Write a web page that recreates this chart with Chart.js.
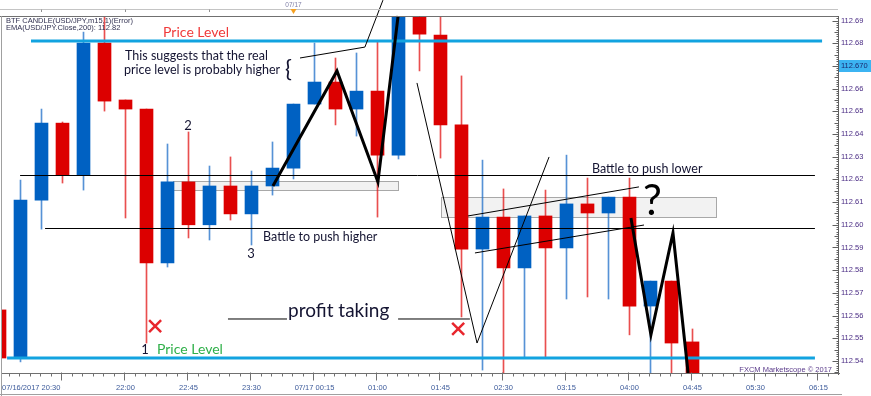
<!DOCTYPE html>
<html>
<head>
<meta charset="UTF-8">
<title>USD/JPY m15</title>
<script src="https://cdn.jsdelivr.net/npm/chart.js@4.4.0/dist/chart.umd.min.js"></script>
<style>
  body { margin: 0; background: #fff; }
  #wrap { width: 871px; height: 396px; position: relative; }
</style>
</head>
<body>
<div id="wrap"><canvas id="candles"></canvas></div>
<script>
// 15 min candles USD/JPY, 07/16/2017 20:30 -> 07/17 06:15
var times = ['20:30','20:45','21:00','21:15','21:30','21:45','22:00','22:15','22:30','22:45',
             '23:00','23:15','23:30','23:45','00:00','00:15','00:30','00:45','01:00','01:15',
             '01:30','01:45','02:00','02:15','02:30','02:45','03:00','03:15','03:30','03:45',
             '04:00','04:15','04:30','04:45','05:00','05:15','05:30','05:45','06:00','06:15'];

var opens  = [112.5625,112.5413,112.6109,112.6448,112.6219,112.6801,112.6550,112.6510,112.5832,112.6189,
              112.6000,112.6171,112.6048,112.6171,112.6250,112.6532,112.6629,112.6510,112.6589,112.6307,
              112.7000,112.6836,112.6440,112.5893,112.6034,112.5810,112.6039,112.5898,112.6092,112.6052,
              112.6122,112.5642,112.5752,112.5484];
var highs  = [112.5625,112.6197,112.6510,112.6453,112.6849,112.6960,112.6550,112.6510,112.6356,112.6409,
              112.6259,112.6299,112.6237,112.6365,112.6532,112.6801,112.6735,112.6757,112.6805,112.7100,
              112.7100,112.6990,112.6656,112.6285,112.6158,112.6039,112.6153,112.6307,112.6206,112.6122,
              112.6206,112.5752,112.5752,112.5541];
var lows   = [112.5390,112.5396,112.5981,112.6184,112.6153,112.6501,112.6030,112.5479,112.5814,112.5942,
              112.5933,112.6021,112.5911,112.6131,112.6202,112.6532,112.6440,112.6391,112.6034,112.6290,
              112.6678,112.6294,112.5594,112.5360,112.5340,112.5418,112.5418,112.5673,112.5682,112.5673,
              112.5515,112.5330,112.5330,112.5200];
var closes = [112.5413,112.6109,112.6448,112.6219,112.6801,112.6545,112.6510,112.5832,112.6189,112.6000,
              112.6171,112.6048,112.6171,112.6250,112.6532,112.6629,112.6510,112.6589,112.6307,112.7000,
              112.6840,112.6440,112.5893,112.6034,112.5810,112.6039,112.5898,112.6092,112.6052,112.6122,
              112.5642,112.5752,112.5479,112.5300];

var priceTicks = [112.54,112.55,112.56,112.57,112.58,112.59,112.60,112.61,112.62,112.63,
                  112.64,112.65,112.66,112.67,112.68,112.69];
var lastPrice = 112.670;

var labelIdx  = [0, 6, 9, 12, 15, 18, 21, 24, 27, 30, 33, 36, 39];
var labelText = ['07/16/2017 20:30','22:00','22:45','23:30','07/17 00:15','01:00','01:45',
                 '02:30','03:15','04:00','04:45','05:30','06:15'];

var BLUE = '#0061c2', RED = '#dc0000';
var BLUE_WICK = 'rgba(30,110,200,0.75)', RED_WICK = 'rgba(225,20,20,0.75)';

// drawings on the chart, in (candle index, price)
var levels  = [[1.50, 39.17, 112.6810], [0.36, 38.83, 112.5413]];
var hGuides = [[0.98, 38.83, 112.6219], [2.17, 38.83, 112.5986]];
var boxes   = [[8.27, 18.98, 112.6193, 112.6153], [21.02, 34.12, 112.6122, 112.6034]];
var thickPaths = [
  [[13.02,112.6171],[16.07,112.6678],[18.02,112.6189],[18.98,112.6920]],
  [[30.07,112.6030],[31.02,112.5515],[32.07,112.5964],[32.79,112.5347]]
];
var thinPaths = [
  [[14.31,112.6735],[17.40,112.6783],[18.26,112.6990]],
  [[19.88,112.6625],[22.74,112.5479],[26.17,112.6299]],
  [[22.31,112.6039],[30.45,112.6167]],
  [[22.64,112.5876],[30.69,112.5999]],
  [[10.88,112.5585],[13.69,112.5585]],
  [[18.98,112.5585],[22.40,112.5585]]
];
var notes = [
  ['Price Level', 7.79, 112.6827, 14, '#f03a3a', 'left'],
  ['This suggests that the real', 5.98, 112.6726, 12.5, '#141432', 'left'],
  ['price level is probably higher', 5.93, 112.6664, 12.5, '#141432', 'left'],
  ['{', 13.60, 112.6651, 23, '#141432', 'left'],
  ['2', 8.98, 112.6418, 13, '#141432', 'center'],
  ['3', 11.98, 112.5854, 13, '#141432', 'center'],
  ['1', 6.93, 112.5431, 13, '#141432', 'center'],
  ['Price Level', 7.50, 112.5431, 14, '#30b04a', 'left'],
  ['Battle to push higher', 12.55, 112.5929, 12.5, '#141432', 'left'],
  ['Battle to push lower', 28.21, 112.6228, 12.5, '#141432', 'left'],
  ['?', 30.64, 112.6043, 42, '#000', 'left'],
  ['profit taking', 13.74, 112.5594, 19, '#141432', 'left']
];
var crosses = [[7.41, 112.5554], [21.84, 112.5541]];

var bodies = [], wicks = [], colors = [], wickColors = [];
for (var i = 0; i < opens.length; i++) {
    bodies.push({x: i, y: [opens[i], closes[i]]});
    wicks.push({x: i, y: [lows[i], highs[i]]});
    colors.push(closes[i] >= opens[i] ? BLUE : RED);
    wickColors.push(closes[i] >= opens[i] ? BLUE_WICK : RED_WICK);
}

function path(ctx, chart, pts, w, col) {
    var xs = chart.scales.x, ys = chart.scales.y;
    ctx.beginPath();
    pts.forEach(function (p, k) {
        var px = xs.getPixelForValue(p[0]), py = ys.getPixelForValue(p[1]);
        if (k === 0) ctx.moveTo(px, py); else ctx.lineTo(px, py);
    });
    ctx.lineWidth = w;
    ctx.strokeStyle = col;
    ctx.lineJoin = 'miter';
    ctx.stroke();
}

var chrome = {
    id: 'chrome',
    beforeDatasetsDraw: function (chart) {
        var ctx = chart.ctx, xs = chart.scales.x, ys = chart.scales.y;
        ctx.save();
        boxes.forEach(function (b) {
            var x0 = Math.round(xs.getPixelForValue(b[0])) + 0.5, x1 = Math.round(xs.getPixelForValue(b[1])) + 0.5;
            var y0 = Math.round(ys.getPixelForValue(b[2])) + 0.5, y1 = Math.round(ys.getPixelForValue(b[3])) + 0.5;
            ctx.fillStyle = '#f2f2f2';
            ctx.fillRect(x0, y0, x1 - x0, y1 - y0);
            ctx.strokeStyle = '#a8a8a8';
            ctx.lineWidth = 1;
            ctx.strokeRect(x0, y0, x1 - x0, y1 - y0);
        });
        ctx.restore();
    },
    afterDatasetsDraw: function (chart) {
        var ctx = chart.ctx, xs = chart.scales.x, ys = chart.scales.y, a = chart.chartArea;
        ctx.save();

        // black guides
        hGuides.forEach(function (g) {
            var y = Math.round(ys.getPixelForValue(g[2])) + 0.5;
            ctx.beginPath();
            ctx.moveTo(xs.getPixelForValue(g[0]), y);
            ctx.lineTo(xs.getPixelForValue(g[1]), y);
            ctx.strokeStyle = '#000';
            ctx.lineWidth = 1;
            ctx.stroke();
        });
        // price levels
        levels.forEach(function (l) {
            var y = Math.round(ys.getPixelForValue(l[2]));
            ctx.fillStyle = '#12a3e0';
            ctx.fillRect(xs.getPixelForValue(l[0]), y - 1.5, xs.getPixelForValue(l[1]) - xs.getPixelForValue(l[0]), 3);
        });
        thinPaths.forEach(function (p) { path(ctx, chart, p, 1, '#000'); });
        thickPaths.forEach(function (p) { path(ctx, chart, p, 3, '#000'); });

        notes.forEach(function (n) {
            ctx.font = n[3] + 'px Lato';
            ctx.fillStyle = n[4];
            ctx.textAlign = n[5];
            ctx.textBaseline = 'alphabetic';
            ctx.fillText(n[0], xs.getPixelForValue(n[1]), ys.getPixelForValue(n[2]));
        });
        crosses.forEach(function (c) {
            var cx = xs.getPixelForValue(c[0]), cy = ys.getPixelForValue(c[1]), r = 6;
            ctx.beginPath();
            ctx.moveTo(cx - r, cy - r); ctx.lineTo(cx + r, cy + r);
            ctx.moveTo(cx + r, cy - r); ctx.lineTo(cx - r, cy + r);
            ctx.strokeStyle = '#e8262d';
            ctx.lineWidth = 2.5;
            ctx.stroke();
        });

        // header
        ctx.font = '7.5px "Liberation Sans"';
        ctx.fillStyle = '#303050';
        ctx.textAlign = 'left';
        ctx.fillText('BTF CANDLE(USD/JPY,m15,1)(Error)', 6, 23);
        ctx.fillText('EMA(USD/JPY.Close,200): 112.82', 6, 30);

        // top strip
        ctx.strokeStyle = '#c4c4c4';
        ctx.lineWidth = 1;
        ctx.beginPath(); ctx.moveTo(0, 9.5); ctx.lineTo(a.right, 9.5); ctx.stroke();
        ctx.strokeStyle = '#707070';
        ctx.beginPath(); ctx.moveTo(0, a.top + 0.5); ctx.lineTo(a.right + 1, a.top + 0.5); ctx.stroke();
        ctx.strokeStyle = '#909090';
        [2, 6, 10].forEach(function (k) {
            var x = Math.round(xs.getPixelForValue(k)) + 0.5;
            ctx.beginPath(); ctx.moveTo(x, 9.5); ctx.lineTo(x, 12); ctx.stroke();
        });
        var mx = xs.getPixelForValue(14);
        ctx.font = '6.5px "Liberation Sans"';
        ctx.fillStyle = '#8080a8';
        ctx.textAlign = 'center';
        ctx.fillText('07/17', mx, 7);
        ctx.fillStyle = '#f5a020';
        ctx.beginPath(); ctx.moveTo(mx - 3, 9); ctx.lineTo(mx + 3, 9); ctx.lineTo(mx, 14); ctx.closePath(); ctx.fill();

        // left frame
        ctx.strokeStyle = '#a0a0a0';
        ctx.beginPath(); ctx.moveTo(1.5, a.top); ctx.lineTo(1.5, 396); ctx.stroke();
        ctx.beginPath(); ctx.moveTo(0, 394.5); ctx.lineTo(842, 394.5); ctx.stroke();

        // right price axis
        var rx = a.right + 0.5;
        ctx.strokeStyle = '#606060';
        ctx.beginPath(); ctx.moveTo(rx, a.top); ctx.lineTo(rx, a.bottom + 2); ctx.stroke();
        for (var t = 112535; t <= 112692; t++) {
            var y = Math.round(ys.getPixelForValue(t / 1000)) + 0.5;
            var len = (t % 10 === 0) ? 6 : (t % 5 === 0 ? 4 : 2);
            ctx.beginPath(); ctx.moveTo(rx - len, y); ctx.lineTo(rx, y); ctx.stroke();
        }
        ctx.font = '7.5px "Liberation Sans"';
        ctx.fillStyle = '#4a2c84';
        ctx.textAlign = 'left';
        ctx.textBaseline = 'middle';
        priceTicks.forEach(function (p) {
            ctx.fillText(p.toFixed(2), a.right + 3, ys.getPixelForValue(p));
        });
        var ty = Math.round(ys.getPixelForValue(lastPrice));
        ctx.fillStyle = '#3cb4f2';
        ctx.fillRect(a.right + 1, ty - 6, 871 - a.right - 1, 12);
        ctx.fillStyle = '#1a2a70';
        ctx.fillText(lastPrice.toFixed(3), a.right + 3, ty);

        // time axis
        var by = a.bottom + 0.5;
        ctx.strokeStyle = '#707070';
        ctx.beginPath(); ctx.moveTo(a.left, by); ctx.lineTo(a.right + 2, by); ctx.stroke();
        for (var h = 0; h <= 79; h++) {
            var x = Math.round(xs.getPixelForValue(h / 2)) - 0.5;
            if (x < a.left || x > a.right) continue;
            var major = (h % 6 === 0);
            ctx.beginPath();
            ctx.moveTo(x, major ? by - 1 : by);
            ctx.lineTo(x, major ? by + 7 : by + 3);
            ctx.stroke();
        }
        ctx.fillStyle = '#3c5a9a';
        ctx.textBaseline = 'middle';
        labelIdx.forEach(function (k, j) {
            ctx.textAlign = j === 0 ? 'left' : 'center';
            ctx.fillText(labelText[j], j === 0 ? a.left : xs.getPixelForValue(k), by + 14);
        });

        ctx.font = '7.5px "Liberation Sans"';
        ctx.fillStyle = '#5a3a8a';
        ctx.textAlign = 'right';
        ctx.textBaseline = 'alphabetic';
        ctx.fillText('FXCM Marketscope \u00a9 2017', a.right - 6, a.bottom - 1);
        ctx.restore();
    }
};

var chart = new Chart(document.getElementById('candles'), {
    type: 'bar',
    data: {
        labels: times,
        datasets: [
            {label: 'body', data: bodies, backgroundColor: colors, barThickness: 13, grouped: false, order: 0, borderWidth: 0},
            {label: 'wick', data: wicks, backgroundColor: wickColors, barThickness: 1, grouped: false, order: 1, borderWidth: 0}
        ]
    },
    options: {
        responsive: true,
        maintainAspectRatio: false,
        animation: false,
        devicePixelRatio: 1,
        layout: {padding: {left: 2, right: 33, top: 16, bottom: 23}},
        plugins: {legend: {display: false}, tooltip: {enabled: false}},
        scales: {
            x: {type: 'linear', display: false, offset: false, min: 0.11905, max: 39.9286},
            y: {type: 'linear', display: false, beginAtZero: false, min: 112.5347, max: 112.692}
        }
    },
    plugins: [chrome]
});
</script>
</body>
</html>
